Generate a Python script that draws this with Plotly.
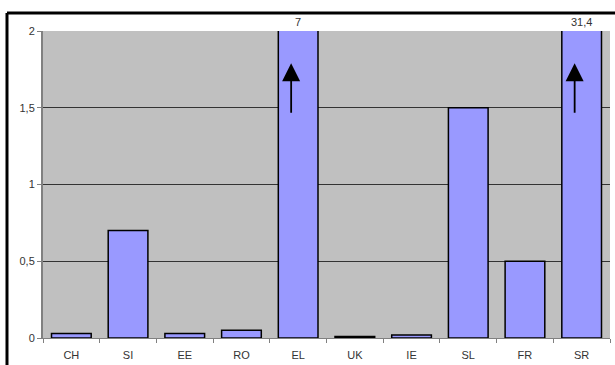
import plotly.graph_objects as go

categories = ["CH", "SI", "EE", "RO", "EL", "UK", "IE", "SL", "FR", "SR"]
values = [0.03, 0.7, 0.03, 0.05, 7, 0.01, 0.02, 1.5, 0.5, 31.4]
y_ticks = [0, 0.5, 1, 1.5, 2]
y_max = 2

fig = go.Figure()
fig.add_trace(go.Bar(
    x=categories, y=values,
    marker=dict(color="#9999ff", line=dict(color="#000000", width=1.5)),
    width=0.7,
))

# value labels + arrows for bars that exceed the axis
for c, v in zip(categories, values):
    if v > y_max:
        fig.add_annotation(x=c, y=y_max, yref="y", text=f"{v:g}".replace(".", ","),
                           showarrow=False, yanchor="bottom", yshift=1,
                           font=dict(size=11, color="#333", family="Liberation Sans, Arial"))
        fig.add_annotation(x=c, y=1.79, ax=0, ay=51, xref="x", yref="y", xshift=-7,
                           showarrow=True, arrowhead=2, arrowsize=2.0, arrowwidth=1.8,
                           arrowcolor="#000", text="")

fig.update_layout(
    width=615, height=365,
    margin=dict(l=43, r=5, t=31, b=27),
    paper_bgcolor="white",
    plot_bgcolor="#c0c0c0",
    separators=", ",
    showlegend=False,
    bargap=0.3,
    font=dict(family="Liberation Sans, Arial", size=11, color="#222"),
    xaxis=dict(
        showgrid=False, showline=True, linecolor="#808080", linewidth=1,
        ticks="outside", ticklen=4, tickcolor="#808080", tickson="boundaries",
        ticklabelstandoff=7,
        tickfont=dict(size=11, color="#333"),
    ),
    yaxis=dict(
        range=[0, y_max], tickvals=y_ticks,
        showgrid=True, gridcolor="#333333", gridwidth=1,
        zeroline=False,
        showline=True, linecolor="#808080", linewidth=2,
        ticks="outside", ticklen=4, tickcolor="#808080",
        tickfont=dict(size=11, color="#333"),
    ),
    shapes=[
        dict(type="line", xref="paper", yref="paper", x0=-0.0635, x1=1.02, y0=1.0586, y1=1.0586,
             line=dict(color="black", width=3)),
        dict(type="line", xref="paper", yref="paper", x0=-0.0635, x1=-0.0635, y0=1.0586, y1=-0.1,
             line=dict(color="black", width=3)),
    ],
)

fig.write_html("out.html")
